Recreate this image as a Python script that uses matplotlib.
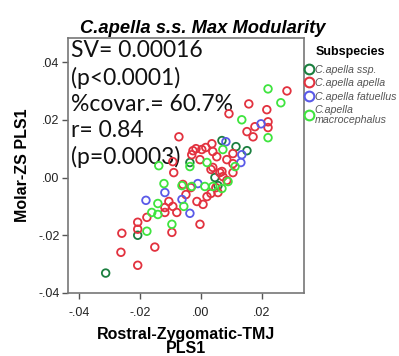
import matplotlib.pyplot as plt
import matplotlib.ticker as mticker
from matplotlib.lines import Line2D

# C.apella ssp.
ssp_x = [0.0069, 0.0115, 0.0151, 0.0046, -0.0036, 0.0056, -0.0207, -0.0312]
ssp_y = [0.0128, 0.0107, 0.0093, 0.0000, 0.0052, -0.0028, -0.0200, -0.0331]

# C.apella apella
apella_x = [0.0282, 0.0157, 0.0216, 0.0092, 0.0220, 0.0177, 0.0220, 0.0151, 0.0171,
            0.0105, 0.0036, 0.0016, 0.0039, 0.0003, 0.0085, 0.0105, 0.0039, 0.0069,
            0.0105, -0.0072, -0.0026, -0.0016, -0.0030, 0.0052, -0.0089, 0.0033,
            0.0062, 0.0072, 0.0085, 0.0056, 0.0033, -0.0059, -0.0033, 0.0049,
            -0.0049, -0.0105, -0.0092, -0.0118, -0.0079, 0.0020, 0.0007, -0.0013,
            -0.0177, -0.0207, -0.0207, -0.0259, -0.0095, -0.0003, -0.0151, -0.0262,
            -0.0207, -0.0118, -0.0092, -0.0003]
apella_y = [0.0300, 0.0255, 0.0235, 0.0221, 0.0193, 0.0176, 0.0173, 0.0159, 0.0141,
            0.0083, 0.0117, 0.0104, 0.0090, 0.0097, 0.0062, 0.0048, 0.0035, 0.0021,
            0.0017, 0.0141, 0.0093, 0.0100, 0.0079, 0.0072, 0.0017, 0.0028,
            0.0017, 0.0003, -0.0010, -0.0052, -0.0055, -0.0024, -0.0035, -0.0035,
            -0.0059, -0.0083, -0.0100, -0.0104, -0.0121, -0.0066, -0.0093, -0.0083,
            -0.0138, -0.0155, -0.0179, -0.0193, -0.0190, -0.0162, -0.0241, -0.0259,
            -0.0304, -0.0121, 0.0055, 0.0062]

# C.apella fatuellus
fatuellus_x = [0.0197, 0.0082, 0.0134, 0.0131, -0.0010, -0.0118, -0.0180, -0.0062, -0.0036]
fatuellus_y = [0.0186, 0.0124, 0.0079, 0.0052, -0.0021, -0.0052, -0.0079, -0.0076, -0.0124]

# C.apella macrocephalus
macro_x = [0.0220, 0.0262, 0.0134, 0.0220, 0.0072, 0.0020, 0.0112, 0.0089, 0.0039,
           0.0069, -0.0036, -0.0121, -0.0062, -0.0030, 0.0013, -0.0141, -0.0161,
           -0.0141, -0.0056, -0.0095, -0.0177, -0.0138]
macro_y = [0.0307, 0.0259, 0.0200, 0.0138, 0.0097, 0.0052, 0.0038, -0.0014, -0.0031,
           -0.0038, 0.0038, -0.0021, -0.0028, -0.0031, -0.0031, -0.0090, -0.0121,
           -0.0128, -0.0100, -0.0162, -0.0186, 0.0041]

groups = [
    ("C.apella ssp.", ssp_x, ssp_y, "#1b7f3f"),
    ("C.apella apella", apella_x, apella_y, "#e2323f"),
    ("C.apella fatuellus", fatuellus_x, fatuellus_y, "#5a5ae8"),
    ("C.apella\nmacrocephalus", macro_x, macro_y, "#3fe43f"),
]

stats_lines = ["SV= 0.00016", "(p<0.0001)", "%covar.= 60.7%", "r= 0.84", "(p=0.0003)"]

xticks = [-0.04, -0.02, 0.00, 0.02]
xtick_labels = ["-.04", "-.02", ".00", ".02"]
yticks = [-0.04, -0.02, 0.00, 0.02, 0.04]
ytick_labels = ["-.04", "-.02", ".00", ".02", ".04"]

plt.rcParams['font.family'] = ['Liberation Sans', 'DejaVu Sans']

fig = plt.figure(figsize=(3.99, 3.56), dpi=100)
ax = fig.add_axes([0.170, 0.177, 0.592, 0.716])

for name, xs, ys, col in groups:
    ax.scatter(xs, ys, s=30, facecolors='none', edgecolors=col, linewidths=1.3, zorder=3)

ax.set_xlim(-0.0436, 0.0338)
ax.set_ylim(-0.0400, 0.0483)
ax.set_xticks(xticks)
ax.xaxis.set_major_formatter(mticker.FixedFormatter(xtick_labels))
ax.set_yticks(yticks)
ax.yaxis.set_major_formatter(mticker.FixedFormatter(ytick_labels))
ax.tick_params(direction='out', length=4, width=1, color='#555555',
               labelsize=9, labelcolor='#222222', pad=2)
ax.tick_params(axis='x', pad=6)
for sp in ax.spines.values():
    sp.set_color('#777777')
    sp.set_linewidth(1.2)

fig.text(0.509, 0.921, "C.apella s.s. Max Modularity", fontsize=13.2,
         fontweight='bold', style='italic', ha='center', va='center')
ax.set_ylabel("Molar-ZS PLS1", fontsize=11.5, fontweight='bold', labelpad=6)
ax.set_xlabel("Rostral-Zygomatic-TMJ\nPLS1", fontsize=11.5, fontweight='bold',
              labelpad=6, linespacing=0.9)

line_y = [0.953, 0.845, 0.741, 0.637, 0.533]
for txt, yy in zip(stats_lines, line_y):
    ax.text(0.012, yy, txt, transform=ax.transAxes, fontsize=16.5,
            family=['Lato', 'DejaVu Sans'], va='center', ha='left',
            color='#111111', zorder=2)

handles = [Line2D([], [], linestyle='none', marker='o', markersize=7,
                  markerfacecolor='none', markeredgecolor=col, markeredgewidth=1.5)
           for _, _, _, col in groups]
labels = [g[0] for g in groups]
leg = fig.legend(handles, labels, title="Subspecies", loc='upper left',
                 bbox_to_anchor=(0.762, 0.872), frameon=False, fontsize=7.7,
                 handletextpad=0.0, handlelength=1.0, labelspacing=0.33,
                 borderaxespad=0, borderpad=0)
leg.get_title().set_fontweight('bold')
leg.get_title().set_fontsize(9)
leg._legend_box.sep = 5
for t in leg.get_texts():
    t.set_style('italic')
    t.set_color('#555555')
    t.set_linespacing(0.95)

fig.savefig("out.png", dpi=100)
